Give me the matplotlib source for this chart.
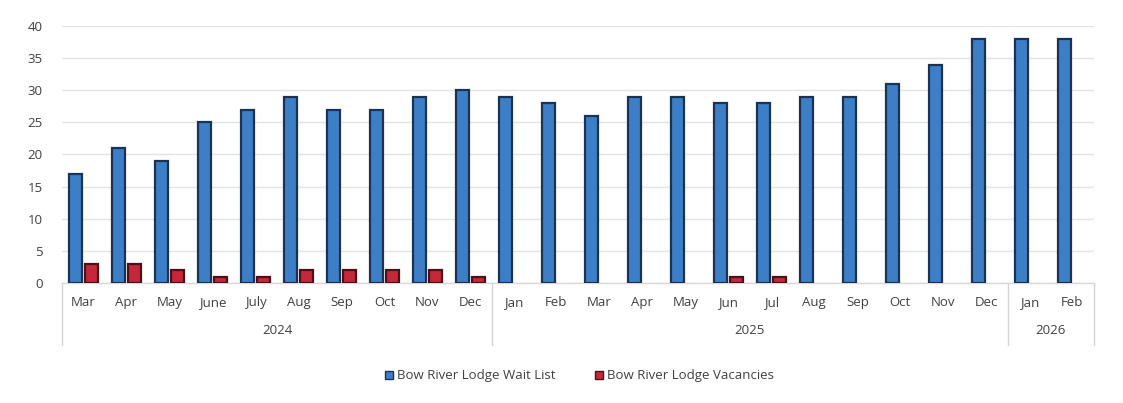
import matplotlib.pyplot as plt
import numpy as np
from matplotlib.patches import Patch
from matplotlib.transforms import blended_transform_factory

months = ["Mar", "Apr", "May", "June", "July", "Aug", "Sep", "Oct", "Nov", "Dec",
          "Jan", "Feb", "Mar", "Apr", "May", "Jun", "Jul", "Aug", "Sep", "Oct",
          "Nov", "Dec", "Jan", "Feb"]
years = ["2024", "2025", "2026"]
months_per_year = [10, 12, 2]
wait_list = [17, 21, 19, 25, 27, 29, 27, 27, 29, 30,
             29, 28, 26, 29, 29, 28, 28, 29, 29, 31,
             34, 38, 38, 38]
vacancies = [3, 3, 2, 1, 1, 2, 2, 2, 2, 1,
             0, 0, 0, 0, 0, 1, 1, 0, 0, 0,
             0, 0, 0, 0]
series_names = ["Bow River Lodge Wait List", "Bow River Lodge Vacancies"]

plt.rcParams['font.family'] = ['Open Sans', 'DejaVu Sans']
text_color = "#404040"
blue, blue_edge = "#3d7fc6", "#1b3252"
red, red_edge = "#c4283a", "#4a1218"

fig = plt.figure(figsize=(11.23, 4.03), dpi=100)
ax = fig.add_axes([0.0552, 0.2978, 0.9188, 0.6377])

x = np.arange(len(months))
w = 0.29
ax.bar(x - w / 2 - 0.04, wait_list, w, color=blue, edgecolor=blue_edge, linewidth=1.6,
       zorder=3, label=series_names[0])
# zero-vacancy months get no visible bar outline
red_lw = [1.6 if v > 0 else 0 for v in vacancies]
ax.bar(x + w / 2 + 0.04, vacancies, w, color=red, edgecolor=red_edge, linewidth=red_lw,
       zorder=3, label=series_names[1])

ax.set_xlim(-0.5, len(months) - 0.5)
ax.set_ylim(0, 40)
ax.set_yticks(range(0, 41, 5))
ax.yaxis.grid(True, color="#e3e3e3", linewidth=1.0)
ax.set_axisbelow(True)
for s in ax.spines.values():
    s.set_visible(False)
ax.tick_params(axis="y", length=0, labelsize=9.5, labelcolor=text_color, pad=14)
ax.set_xticks([])

# month labels and year group labels under the axis
trans = blended_transform_factory(ax.transData, ax.transAxes)
for i, m in enumerate(months):
    ax.text(i, -0.075, m, transform=trans, ha="center", va="center",
            fontsize=9.5, color=text_color)

sep_color = "#d4d4d4"
edges = np.concatenate([[0], np.cumsum(months_per_year)]) - 0.5
for e in edges:
    ax.plot([e, e], [0, -0.24], transform=trans, color=sep_color, linewidth=1.0,
            clip_on=False)
ax.plot([edges[0], edges[-1]], [0, 0], transform=trans, color="#d8d8d8",
        linewidth=1.0, clip_on=False, zorder=2)
for yr, a, b in zip(years, edges[:-1], edges[1:]):
    ax.text((a + b) / 2, -0.185, yr, transform=trans, ha="center", va="center",
            fontsize=9.5, color=text_color)

handles = [Patch(facecolor=blue, edgecolor=blue_edge),
           Patch(facecolor=red, edgecolor=red_edge)]
fig.legend(handles, series_names, loc="center", bbox_to_anchor=(0.516, 0.067),
           ncol=2, frameon=False, fontsize=9.5, labelcolor=text_color,
           handlelength=0.6, handleheight=0.6, handletextpad=0.3, columnspacing=3.0)

fig.savefig("out.png", dpi=100, facecolor="white")
